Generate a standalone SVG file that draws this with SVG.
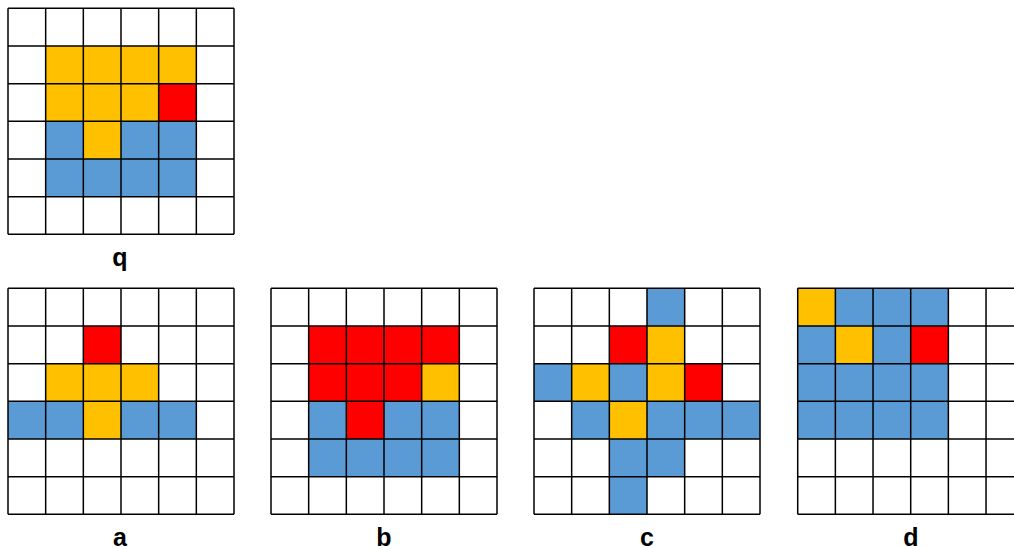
<svg xmlns="http://www.w3.org/2000/svg" xmlns:xlink="http://www.w3.org/1999/xlink" width="1014" height="548" viewBox="0 0 1014 548">
<style>
.y{fill:#FFC000}.r{fill:#FF0000}.b{fill:#5B9BD5}
.lbl{font-family:"Liberation Sans",Arial,sans-serif;font-weight:bold;font-size:25px;fill:#000;text-anchor:middle}
.gl{fill:none;stroke:#000;stroke-width:1.5}
</style>
<defs>
<path id="grid" class="gl" d="M0,0H226M0,37.67H226M0,75.33H226M0,113H226M0,150.67H226M0,188.33H226M0,226H226M0,0V226M37.67,0V226M75.33,0V226M113,0V226M150.67,0V226M188.33,0V226M226,0V226"/>
</defs>
<rect width="1014" height="548" fill="#fff"/>
<g id="grid-q" transform="translate(8,8.3)">
<rect class="y" x="37.67" y="37.67" width="150.67" height="37.67"/>
<rect class="y" x="37.67" y="75.33" width="113" height="37.67"/>
<rect class="r" x="150.67" y="75.33" width="37.67" height="37.67"/>
<rect class="b" x="37.67" y="113" width="37.67" height="37.67"/>
<rect class="y" x="75.33" y="113" width="37.67" height="37.67"/>
<rect class="b" x="113" y="113" width="75.33" height="37.67"/>
<rect class="b" x="37.67" y="150.67" width="150.67" height="37.67"/>
<use xlink:href="#grid"/>
</g>
<g id="grid-a" transform="translate(8,288.3)">
<rect class="r" x="75.33" y="37.67" width="37.67" height="37.67"/>
<rect class="y" x="37.67" y="75.33" width="113" height="37.67"/>
<rect class="b" x="0" y="113" width="75.33" height="37.67"/>
<rect class="y" x="75.33" y="113" width="37.67" height="37.67"/>
<rect class="b" x="113" y="113" width="75.33" height="37.67"/>
<use xlink:href="#grid"/>
</g>
<g id="grid-b" transform="translate(271,288.3)">
<rect class="r" x="37.67" y="37.67" width="150.67" height="37.67"/>
<rect class="r" x="37.67" y="75.33" width="113" height="37.67"/>
<rect class="y" x="150.67" y="75.33" width="37.67" height="37.67"/>
<rect class="b" x="37.67" y="113" width="37.67" height="37.67"/>
<rect class="r" x="75.33" y="113" width="37.67" height="37.67"/>
<rect class="b" x="113" y="113" width="75.33" height="37.67"/>
<rect class="b" x="37.67" y="150.67" width="150.67" height="37.67"/>
<use xlink:href="#grid"/>
</g>
<g id="grid-c" transform="translate(534,288.3)">
<rect class="b" x="113" y="0" width="37.67" height="37.67"/>
<rect class="r" x="75.33" y="37.67" width="37.67" height="37.67"/>
<rect class="y" x="113" y="37.67" width="37.67" height="37.67"/>
<rect class="b" x="0" y="75.33" width="37.67" height="37.67"/>
<rect class="y" x="37.67" y="75.33" width="37.67" height="37.67"/>
<rect class="b" x="75.33" y="75.33" width="37.67" height="37.67"/>
<rect class="y" x="113" y="75.33" width="37.67" height="37.67"/>
<rect class="r" x="150.67" y="75.33" width="37.67" height="37.67"/>
<rect class="b" x="37.67" y="113" width="37.67" height="37.67"/>
<rect class="y" x="75.33" y="113" width="37.67" height="37.67"/>
<rect class="b" x="113" y="113" width="113" height="37.67"/>
<rect class="b" x="75.33" y="150.67" width="75.33" height="37.67"/>
<rect class="b" x="75.33" y="188.33" width="37.67" height="37.67"/>
<use xlink:href="#grid"/>
</g>
<g id="grid-d" transform="translate(797.7,288.3)">
<rect class="b" x="0" y="0" width="150.67" height="150.67"/>
<rect class="y" x="0" y="0" width="37.67" height="37.67"/>
<rect class="y" x="37.67" y="37.67" width="37.67" height="37.67"/>
<rect class="r" x="113" y="37.67" width="37.67" height="37.67"/>
<use xlink:href="#grid"/>
</g>
<g id="labels">
<text class="lbl" x="120" y="266">q</text>
<text class="lbl" x="120" y="546">a</text>
<text class="lbl" x="384" y="546">b</text>
<text class="lbl" x="647" y="546">c</text>
<text class="lbl" x="911" y="546">d</text>
</g>
</svg>
